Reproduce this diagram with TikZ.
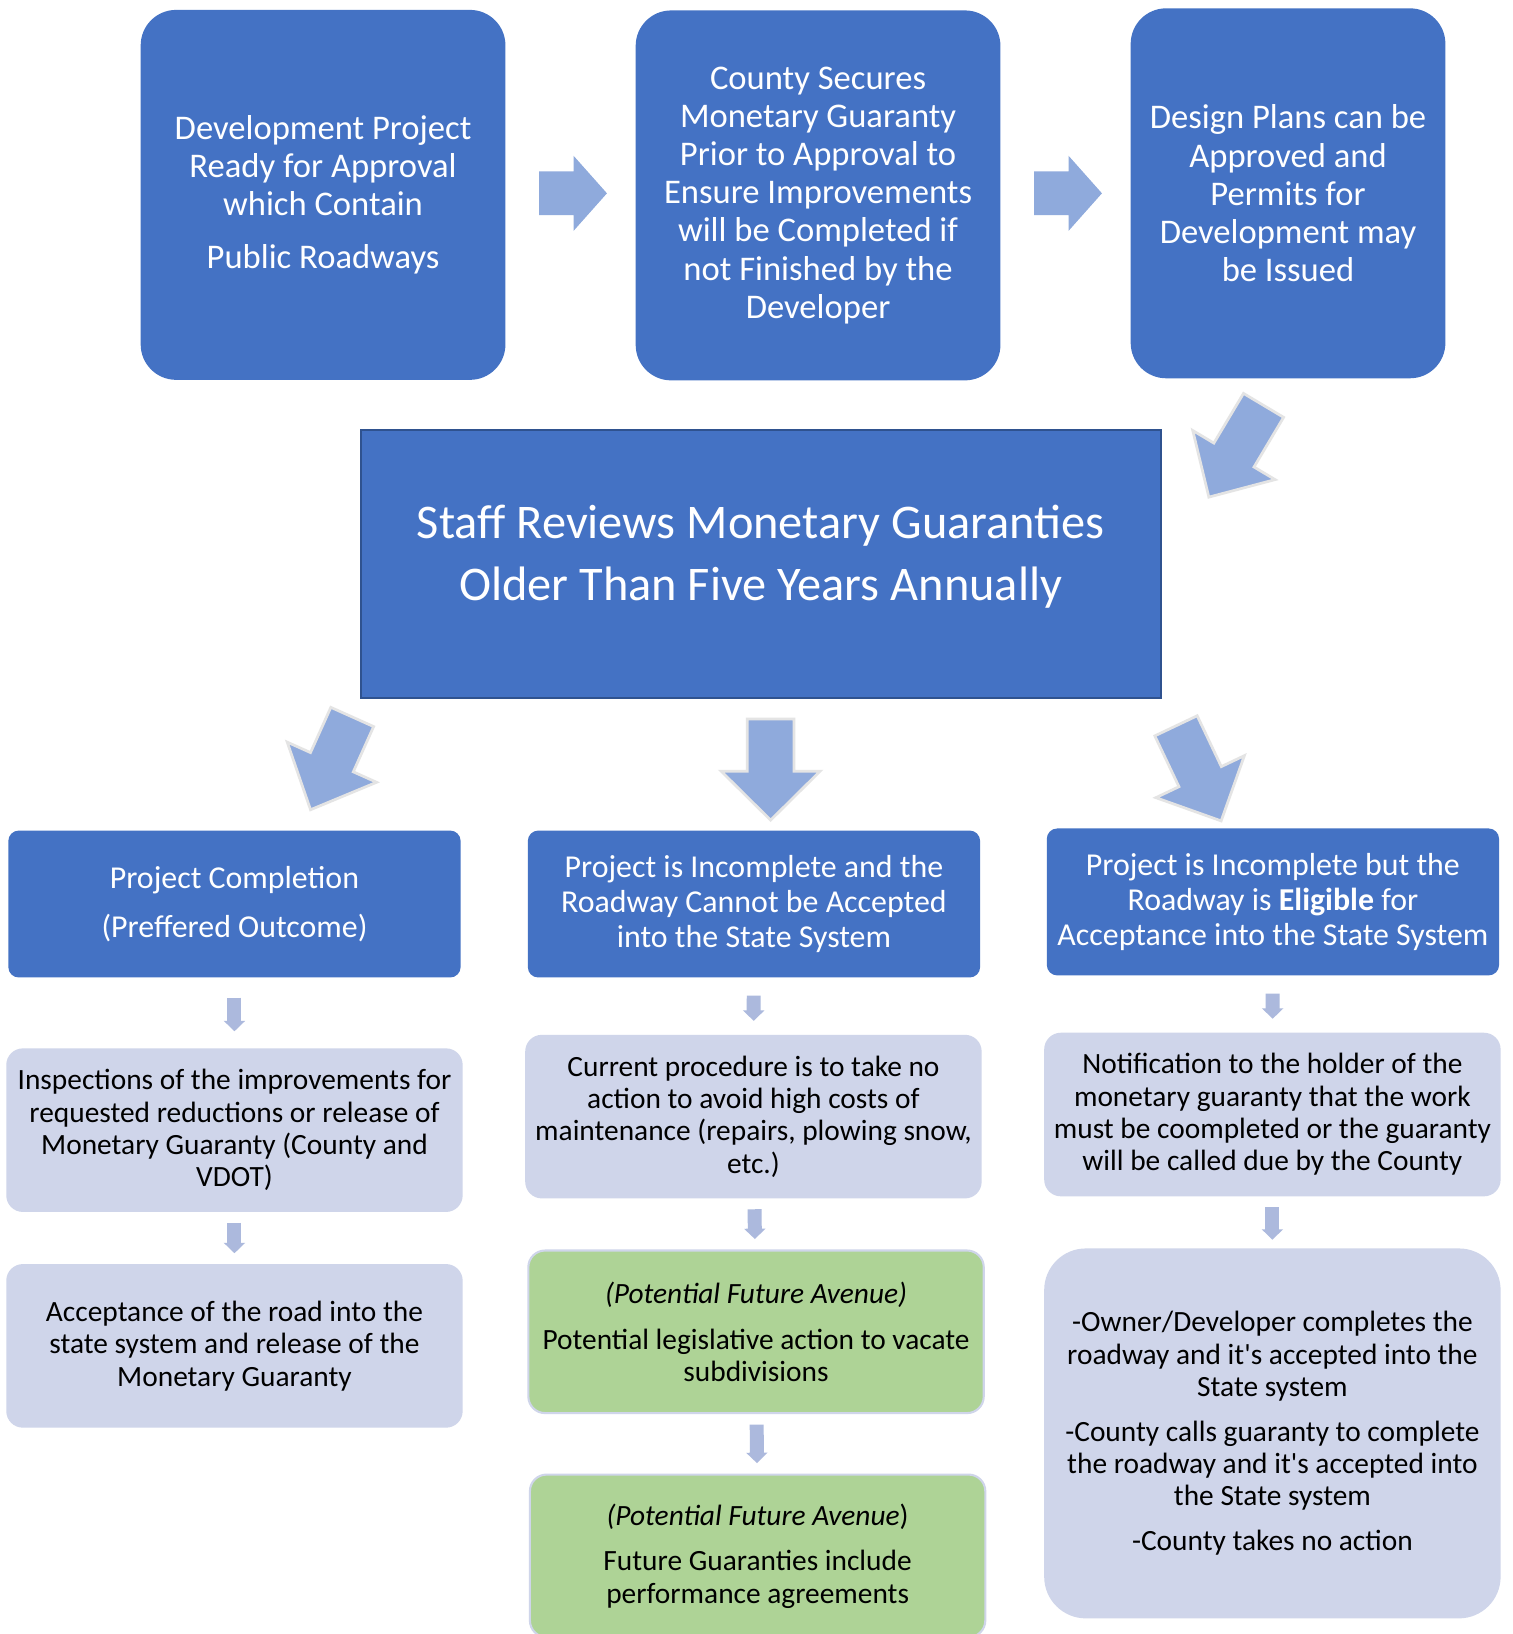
\documentclass[tikz,border=0pt]{standalone}
\usepackage{fontspec}
\setmainfont{Carlito}
\usetikzlibrary{arrows.meta,calc}
\definecolor{dblue}{HTML}{4472C4}
\definecolor{bborder}{HTML}{2F528F}
\definecolor{ablue}{HTML}{8FAADC}
\definecolor{aedge}{HTML}{E4E4E4}
\definecolor{lav}{HTML}{CFD5EA}
\definecolor{sarrow}{HTML}{ACB9DD}
\definecolor{lgreen}{HTML}{AED396}
\newcommand\barrowshape[4]{(0,-#2)--({#1-#4},-#2)--({#1-#4},-#3)--(#1,0)--({#1-#4},#3)--({#1-#4},#2)--(0,#2)--cycle}
\newcommand\apos{\textquotesingle}
\begin{document}
\begin{tikzpicture}[x=0.5pt,y=-0.5pt,
  topbox/.style={fill=dblue, rounded corners=17pt, text=white, align=center,
    minimum height=177.5pt, inner sep=0pt, font=\fontsize{16.6}{18.3}\selectfont},
  bigbox/.style={fill=dblue, draw=bborder, line width=1pt,
    minimum width=384pt, minimum height=128.5pt, inner sep=0pt},
  bigtext/.style={text=white, align=center, inner sep=0pt, font=\fontsize{23.2}{30}\selectfont},
  midbox/.style={fill=dblue, rounded corners=5pt, text=white, align=center,
    minimum width=217pt, minimum height=70.5pt, inner sep=0pt, font=\fontsize{15.3}{17}\selectfont},
  lavbox/.style={fill=lav, rounded corners=8pt, text=black, align=center,
    minimum width=219pt, minimum height=78.5pt, inner sep=0pt, font=\fontsize{14.1}{15.5}\selectfont},
  greenbox/.style={fill=lgreen, draw=lav, line width=1pt, rounded corners=8pt, text=black, align=center,
    minimum width=218.5pt, minimum height=78pt, inner sep=0pt, font=\fontsize{14.1}{15.5}\selectfont},
  rarrow/.style={fill=ablue},
  darrow/.style={fill=ablue, draw=aedge, line width=1.3pt, line join=miter},
  sarr/.style={draw=sarrow, line width=6.7pt, -{Triangle[width=10pt,length=5pt]}},
]
\clip (0,0) rectangle (1451,1568);
\fill[white] (0,0) rectangle (1451,1568);

% top row
\node[topbox, minimum width=175pt] (t1) at (310,187)
  {Development Project\\Ready for Approval\\which Contain\\[7pt]Public Roadways};
\node[topbox, minimum width=175pt] (t2) at (785,187.5)
  {County Secures\\Monetary Guaranty\\Prior to Approval to\\Ensure Improvements\\will be Completed if\\not Finished by the\\Developer};
\node[topbox, minimum width=151pt] (t3) at (1236,185.5)
  {Design Plans can be\\Approved and\\Permits for\\Development may\\be Issued};

% central box
\node[bigbox] (big) at (730,541.5) {};
\node[bigtext] (bigt) at (730,534)
  {Staff Reviews Monetary Guaranties\\Older Than Five Years Annually};

% second row
\node[midbox] (m1) at (225,867.5) {Project Completion\\[6.5pt](Preffered Outcome)};
\node[midbox] (m2) at (723.5,867.5) {Project is Incomplete and the\\Roadway Cannot be Accepted\\into the State System};
\node[midbox] (m3) at (1221.5,865.5) {Project is Incomplete but the\\Roadway is \textbf{Eligible} for\\Acceptance into the State System};

% third row
\node[lavbox] (l1) at (225,1084.5) {Inspections of the improvements for\\requested reductions or release of\\Monetary Guaranty (County and\\VDOT)};
\node[lavbox] (l2) at (723,1071.5) {Current procedure is to take no\\action to avoid high costs of\\maintenance (repairs, plowing snow,\\etc.)};
\node[lavbox] (l3) at (1221,1069.5) {Notification to the holder of the\\monetary guaranty that the work\\must be coompleted or the guaranty\\will be called due by the County};

% fourth row
\node[lavbox] (f1) at (225,1291.5) {Acceptance of the road into the\\state system and release of the\\Monetary Guaranty};
\node[greenbox] (g1) at (725.5,1278) {\textit{(Potential Future Avenue)}\\[6.5pt]Potential legislative action to vacate\\subdivisions};
\node[greenbox] (g2) at (727,1493) {\textit{(Potential Future Avenue})\\[6.5pt]Future Guaranties include\\performance agreements};
\node[lavbox, rounded corners=20pt, minimum height=177.5pt] (f3) at (1221,1375.5)
  {-Owner/Developer completes the\\roadway and it\apos s accepted into the\\State system\\[6pt]-County calls guaranty to complete\\the roadway and it\apos s accepted into\\the State system\\[6pt]-County takes no action};

% block arrows, top row
\coordinate (ra1) at ($(t1.east)+(32,-1.5)$);
\coordinate (ra2) at ($(t2.east)+(32,-2)$);
\begin{scope}[shift={(ra1)}] \fill[rarrow] \barrowshape{65}{21}{36}{32}; \end{scope}
\begin{scope}[shift={(ra2)}] \fill[rarrow] \barrowshape{65}{21}{36}{32}; \end{scope}

% diagonal arrow to big box
\coordinate (da0) at (1212.5,389);
\begin{scope}[shift={(da0)},rotate=-120.8] \filldraw[darrow] \barrowshape{102.5}{22.4}{46}{47}; \end{scope}

% arrows from big box
\coordinate (db1) at (338,688);
\coordinate (db2) at (739.5,690);
\coordinate (db3) at (1128.5,696.5);
\begin{scope}[shift={(db1)},rotate=-114.2] \filldraw[darrow] \barrowshape{97.6}{22.5}{47}{50}; \end{scope}
\begin{scope}[shift={(db2)},rotate=-90] \filldraw[darrow] \barrowshape{97}{22.5}{47.5}{47}; \end{scope}
\begin{scope}[shift={(db3)},rotate=-64.6] \filldraw[darrow] \barrowshape{101}{22.5}{47}{47}; \end{scope}

% small arrows
\draw[sarr, shorten <=9.5pt, shorten >=8pt] (m1) -- (l1);
\draw[sarr, shorten <=5pt, shorten >=5pt] (l1) -- (f1);
\draw[sarr, shorten <=8.5pt, shorten >=6.5pt] (m2) -- (l2);
\draw[sarr, shorten <=5pt, shorten >=5pt] (l2) -- (g1);
\draw[sarr, shorten <=5pt, shorten >=5pt] (g1) -- (g2);
\draw[sarr, shorten <=8.5pt, shorten >=6.5pt] (m3) -- (l3);
\draw[sarr, shorten <=5pt, shorten >=4pt] (l3) -- (f3);
\end{tikzpicture}
\end{document}
